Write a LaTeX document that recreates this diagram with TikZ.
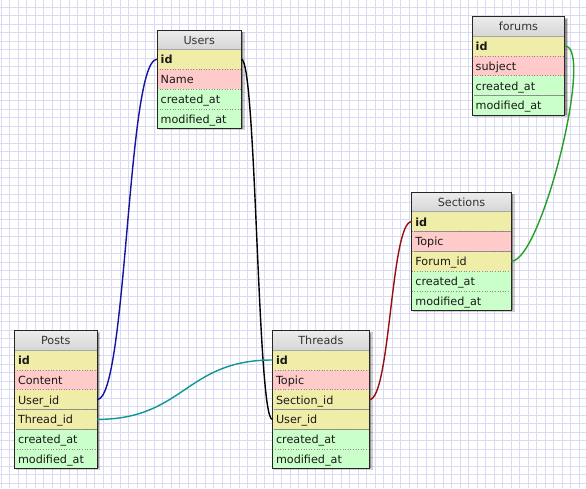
\documentclass[tikz,border=0pt]{standalone}
\usepackage{fontspec}
\setmainfont{DejaVu Sans}
\definecolor{gridline}{RGB}{218,218,242}
\definecolor{keyrow}{RGB}{240,237,168}
\definecolor{txtrow}{RGB}{255,202,202}
\definecolor{daterow}{RGB}{202,255,202}
\definecolor{headtop}{RGB}{236,236,236}
\definecolor{headbot}{RGB}{214,214,214}
\definecolor{linkblue}{RGB}{20,20,160}
\definecolor{linkteal}{RGB}{16,150,150}
\definecolor{linkred}{RGB}{150,16,16}
\definecolor{linkgreen}{RGB}{36,160,36}

% #1 name, #2 x, #3 y (top left), #4 width, #5 number of fields, #6 title, #7 kind/field list
\newcommand\erdtable[7]{%
  \fill[black,opacity=.18] (#2+1.5,#3+1.5) rectangle ++(#4+2,{19+#5*19.4+2});
  \fill[black,opacity=.30] (#2+2,#3+2) rectangle ++(#4,{19+#5*19.4});
  \node[tabhead, minimum width=#4, anchor=north west] (#1-0) at (#2,#3) {#6};
  \foreach \kind/\txt [count=\i, remember=\i as \prev (initially 0)] in {#7}{
    \node[fieldrow, \kind, text width=#4-7, anchor=north west] (#1-\i) at (#1-\prev.south west) {\txt};
    \ifnum\i>1
      \draw[fieldsep] (#1-\i.north west) -- (#1-\i.north east);
    \else
      \draw[headsep] (#1-\i.north west) -- (#1-\i.north east);
    \fi
  }
  \draw[frame] (#1-0.north west) rectangle (#1-#5.south east);
}

\begin{document}
\begin{tikzpicture}[x=1pt, y=-1pt,
  font=\fontsize{11.2}{13}\selectfont,
  tabhead/.style={inner sep=0pt, minimum height=19pt, text height=10pt, text depth=1pt,
    top color=headtop, bottom color=headbot, text=black!80},
  fieldrow/.style={inner xsep=3.5pt, inner ysep=0pt, minimum height=19.4pt,
    text height=10pt, text depth=1pt, align=left, text=black!90},
  pk/.style={fill=keyrow, font=\fontsize{11.2}{13}\selectfont\bfseries},
  fk/.style={fill=keyrow},
  txt/.style={fill=txtrow},
  stamp/.style={fill=daterow},
  fieldsep/.style={draw=black!45, dotted, line width=0.6pt},
  headsep/.style={draw=black!35, line width=0.7pt},
  frame/.style={draw=black!85, line width=1pt},
  link/.style={line width=1.4pt}
]
\useasboundingbox (0,0) rectangle (586,488);
\fill[white] (0,0) rectangle (586,488);

% background grid
\foreach \gx in {1,9.5,...,586}
  \draw[gridline, line width=0.8pt] (\gx,0) -- (\gx,488);
\foreach \gy in {-1.2,7.3,...,488}
  \draw[gridline, line width=0.8pt] (0,\gy) -- (586,\gy);

% tables
\erdtable{users}{157}{30}{84}{4}{Users}
  {pk/id, txt/Name, stamp/created\_at, stamp/modified\_at}
\erdtable{forums}{472}{16.7}{92.5}{4}{forums}
  {pk/id, txt/subject, stamp/created\_at, stamp/modified\_at}
\erdtable{sections}{411.7}{192.3}{99.3}{5}{Sections}
  {pk/id, txt/Topic, fk/Forum\_id, stamp/created\_at, stamp/modified\_at}
\erdtable{posts}{14.3}{330.7}{82.4}{6}{Posts}
  {pk/id, txt/Content, fk/User\_id, fk/Thread\_id, stamp/created\_at, stamp/modified\_at}
\erdtable{threads}{272.3}{330.7}{96.7}{6}{Threads}
  {pk/id, txt/Topic, fk/Section\_id, fk/User\_id, stamp/created\_at, stamp/modified\_at}

% relations
\draw[link, linkblue] (posts-3.east) .. controls +(30,0) and +(-30,0) .. (users-1.west);
\draw[link, black] (users-1.east) .. controls +(15,0) and +(-15,0) .. (threads-4.west);
\draw[link, linkteal] (posts-4.east) .. controls +(87,0) and +(-87,0) .. (threads-1.west);
\draw[link, linkred] (threads-3.east) .. controls +(21,0) and +(-21,0) .. (sections-1.west);
\draw[link, linkgreen] (sections-3.east) .. controls +(30,0) and +(30,0) .. (forums-1.east);
\end{tikzpicture}
\end{document}
